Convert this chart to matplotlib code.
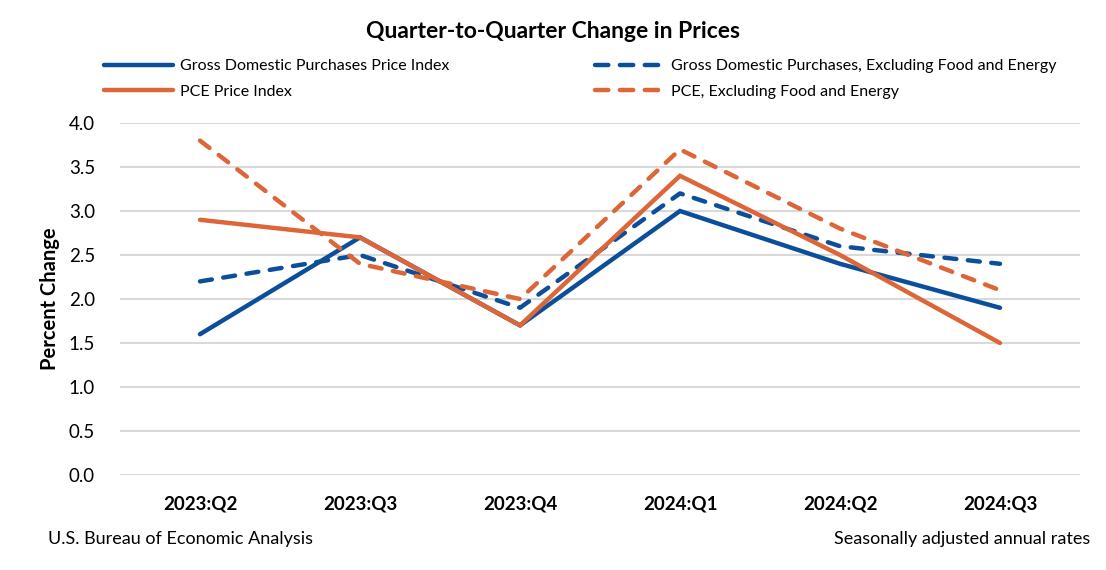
import matplotlib
matplotlib.use("Agg")
import matplotlib.pyplot as plt
from matplotlib.lines import Line2D

plt.rcParams['font.family'] = ['Lato', 'DejaVu Sans']

quarters = ["2023:Q2", "2023:Q3", "2023:Q4", "2024:Q1", "2024:Q2", "2024:Q3"]
gdp_purch = [1.6, 2.7, 1.7, 3.0, 2.4, 1.9]
gdp_purch_core = [2.2, 2.5, 1.9, 3.2, 2.6, 2.4]
pce = [2.9, 2.7, 1.7, 3.4, 2.5, 1.5]
pce_core = [3.8, 2.4, 2.0, 3.7, 2.8, 2.1]
yticks = [0.0, 0.5, 1.0, 1.5, 2.0, 2.5, 3.0, 3.5, 4.0]

BLUE = '#0B4F9A'
ORANGE = '#DD6638'
GRID = '#D9D9D9'

fig = plt.figure(figsize=(11.06, 5.70), dpi=100)
ax = fig.add_axes([120/1106, 95/570, 960/1106, 352/570])

x = list(range(len(quarters)))
lw = 3.2
dash = (2.7, 2.6)
l1, = ax.plot(x, gdp_purch, color=BLUE, lw=lw, solid_capstyle='round', solid_joinstyle='miter')
l3, = ax.plot(x, gdp_purch_core, color=BLUE, lw=lw, ls=(0, dash), dash_capstyle='round')
l2, = ax.plot(x, pce, color=ORANGE, lw=lw, solid_capstyle='round', solid_joinstyle='miter')
l4, = ax.plot(x, pce_core, color=ORANGE, lw=lw, ls=(0, dash), dash_capstyle='round')

ax.set_xlim(-0.5, len(quarters) - 0.5)
ax.set_ylim(0, 4.0)
ax.set_yticks(yticks)
ax.set_yticklabels([f"{v:.1f}" for v in yticks], fontsize=13.5)
ax.set_xticks(x)
ax.set_xticklabels(quarters, fontsize=13.5, fontweight='bold')
ax.tick_params(axis='both', length=0)
ax.tick_params(axis='x', pad=15)
ax.tick_params(axis='y', pad=18)
ax.grid(axis='y', color=GRID, lw=1.5)
ax.set_axisbelow(True)
for s in ax.spines.values():
    s.set_visible(False)
ax.set_ylabel("Percent Change", fontsize=14.5, fontweight='bold', labelpad=6)

fig.text(0.5, 1 - 31/570, "Quarter-to-Quarter Change in Prices", ha='center', va='center',
         fontsize=16.5, fontweight='bold')

# legend handles (legend-only dash pattern: three dashes)
h1 = Line2D([], [], color=BLUE, lw=lw, solid_capstyle='round')
h2 = Line2D([], [], color=ORANGE, lw=lw, solid_capstyle='round')
h3 = Line2D([], [], color=BLUE, lw=lw, ls=(0, (3.0, 2.6)), dash_capstyle='round')
h4 = Line2D([], [], color=ORANGE, lw=lw, ls=(0, (3.0, 2.6)), dash_capstyle='round')

common = dict(loc='upper left', frameon=False, fontsize=11.5, handlelength=4.3,
              handletextpad=0.45, labelspacing=0.7, borderaxespad=0, borderpad=0)
fig.legend([h1, h2], ["Gross Domestic Purchases Price Index", "PCE Price Index"],
           bbox_to_anchor=(104/1106, 1 - 59/570), **common)
fig.legend([h3, h4], ["Gross Domestic Purchases, Excluding Food and Energy", "PCE, Excluding Food and Energy"],
           bbox_to_anchor=(595/1106, 1 - 59/570), **common)

fig.text(48/1106, 1 - 539/570, "U.S. Bureau of Economic Analysis", ha='left', va='center', fontsize=13)
fig.text(1090/1106, 1 - 539/570, "Seasonally adjusted annual rates", ha='right', va='center', fontsize=13)

fig.savefig("out.png", dpi=100)
